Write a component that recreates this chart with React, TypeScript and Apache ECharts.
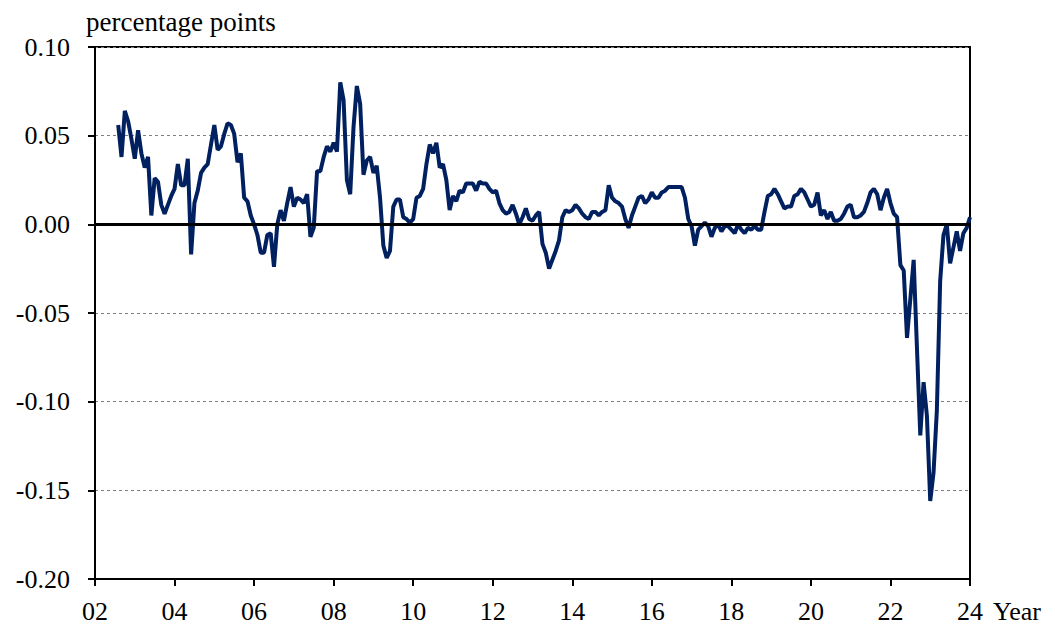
import React, { useEffect, useRef } from "react";
import * as echarts from "echarts";

// Monthly series starting August 2002, ending January 2024
const START_YEAR = 2002;
const START_MONTH = 8;

const values2002to2005 = [
  0.056, 0.038, 0.064, 0.058, 0.048, 0.037, 0.053, 0.040, 0.032, 0.038,
  0.005, 0.026, 0.024, 0.011, 0.006, 0.011, 0.016, 0.020, 0.034, 0.022,
  0.022, 0.037, -0.017, 0.012, 0.019, 0.029, 0.032, 0.034, 0.045, 0.056,
  0.042, 0.044, 0.051, 0.057, 0.056, 0.051, 0.035, 0.040, 0.015, 0.013,
];
const values2006to2009 = [
  0.005, 0.000, -0.006, -0.016, -0.016, -0.006, -0.005, -0.024, 0.000, 0.008,
  0.002, 0.012, 0.021, 0.010, 0.015, 0.014, 0.012, 0.017, -0.007, -0.002,
  0.030, 0.030, 0.038, 0.044, 0.041, 0.046, 0.041, 0.080, 0.070, 0.025,
  0.017, 0.055, 0.078, 0.068, 0.028, 0.036, 0.038, 0.029, 0.033, 0.015,
  -0.012, -0.019, -0.015, 0.010, 0.014, 0.014, 0.004, 0.003, 0.001, 0.003,
];
const values2010to2013 = [
  0.015, 0.016, 0.020, 0.034, 0.045, 0.040, 0.046, 0.032, 0.034, 0.025,
  0.008, 0.016, 0.013, 0.019, 0.018, 0.023, 0.023, 0.023, 0.019, 0.024,
  0.023, 0.023, 0.020, 0.018, 0.019, 0.012, 0.008, 0.006, 0.007, 0.011,
  0.006, 0.000, 0.004, 0.009, 0.003, 0.002, 0.005, 0.007, -0.011, -0.016,
  -0.025, -0.020, -0.015, -0.009, 0.004, 0.008, 0.007, 0.008, 0.011, 0.009,
];
const values2014to2018 = [
  0.006, 0.004, 0.003, 0.007, 0.007, 0.005, 0.007, 0.008, 0.022, 0.015,
  0.013, 0.012, 0.010, 0.003, -0.002, 0.005, 0.010, 0.015, 0.016, 0.012,
  0.014, 0.018, 0.015, 0.015, 0.018, 0.019, 0.021, 0.021, 0.021, 0.021,
  0.021, 0.015, 0.003, -0.001, -0.012, -0.003, -0.001, 0.001, -0.001, -0.007,
  -0.002, 0.000, -0.004, -0.001, -0.001, -0.003, -0.005, 0.000, -0.003, -0.005,
  -0.002, -0.003, -0.001, -0.003, -0.003, 0.007, 0.016, 0.017, 0.020, 0.017,
];
const values2019to2024 = [
  0.013, 0.009, 0.010, 0.010, 0.016, 0.017, 0.020, 0.018, 0.014, 0.010,
  0.011, 0.018, 0.005, 0.008, 0.003, 0.007, 0.002, 0.002, 0.003, 0.006,
  0.010, 0.011, 0.004, 0.004, 0.005, 0.007, 0.012, 0.018, 0.020, 0.017,
  0.008, 0.015, 0.020, 0.012, 0.006, 0.004, -0.023, -0.026, -0.064, -0.042,
  -0.020, -0.070, -0.119, -0.089, -0.108, -0.156, -0.140, -0.105, -0.032, -0.006,
  0.000, -0.022, -0.013, -0.004, -0.015, -0.005, -0.002, 0.004,
];

const allValues = [
  ...values2002to2005,
  ...values2006to2009,
  ...values2010to2013,
  ...values2014to2018,
  ...values2019to2024,
];

const X_MIN = 2002;
const X_MAX = 2024;
const X_STEP = 2;
const Y_MIN = -0.2;
const Y_MAX = 0.1;
const Y_STEP = 0.05;
const Y_UNIT = "percentage points";
const X_UNIT = "Year";

const FONT = "Liberation Serif";
const FS = 26;

export default function App() {
  const ref = useRef<HTMLDivElement>(null);

  useEffect(() => {
    if (!ref.current) return;
    const chart = echarts.init(ref.current, undefined, { renderer: "svg" });
    const data = allValues.map((v, i) => [
      START_YEAR + (START_MONTH - 1 + i) / 12,
      v,
    ]);
    chart.setOption({
      animation: false,
      backgroundColor: "#ffffff",
      textStyle: { fontFamily: FONT },
      grid: {
        left: 95,
        right: 85,
        top: 47,
        bottom: 49,
        show: true,
        borderColor: "#000",
        borderWidth: 2,
      },
      xAxis: {
        type: "value",
        min: X_MIN,
        max: X_MAX,
        interval: X_STEP,
        axisLine: { onZero: false, lineStyle: { color: "#000", width: 2 } },
        axisTick: { show: true, inside: false, length: 7, lineStyle: { color: "#000", width: 2 } },
        splitLine: { show: false },
        axisLabel: {
          color: "#000",
          fontFamily: FONT,
          fontSize: FS,
          margin: 19,
          formatter: (v: number) => String(Math.round(v) % 100).padStart(2, "0"),
        },
      },
      yAxis: {
        type: "value",
        min: Y_MIN,
        max: Y_MAX,
        interval: Y_STEP,
        axisLine: { show: true, lineStyle: { color: "#000", width: 2 } },
        axisTick: { show: true, inside: false, length: 7, lineStyle: { color: "#000", width: 2 } },
        splitLine: {
          show: true,
          lineStyle: { color: "#808080", width: 1, type: [3, 3] },
        },
        axisLabel: {
          color: "#000",
          fontFamily: FONT,
          fontSize: FS,
          margin: 25,
          formatter: (v: number) => (Math.abs(v) < 1e-9 ? "0.00" : v.toFixed(2)),
        },
      },
      graphic: [
        {
          type: "text",
          left: 86,
          top: 8,
          style: { text: Y_UNIT, fill: "#000", fontFamily: FONT, fontSize: 27 },
        },
        {
          type: "text",
          left: 993,
          top: 598,
          style: { text: X_UNIT, fill: "#000", fontFamily: FONT, fontSize: FS },
        },
      ],
      series: [
        {
          type: "line",
          data,
          showSymbol: false,
          symbol: "none",
          lineStyle: { color: "#002060", width: 4 },
          markLine: {
            silent: true,
            symbol: "none",
            label: { show: false },
            lineStyle: { color: "#000", width: 3, type: "solid" },
            data: [{ yAxis: 0 }],
          },
          z: 3,
        },
      ],
    });
    return () => chart.dispose();
  }, []);

  return (
    <div
      ref={ref}
      style={{ position: "fixed", left: 0, top: 0, width: 1055, height: 628 }}
    />
  );
}
